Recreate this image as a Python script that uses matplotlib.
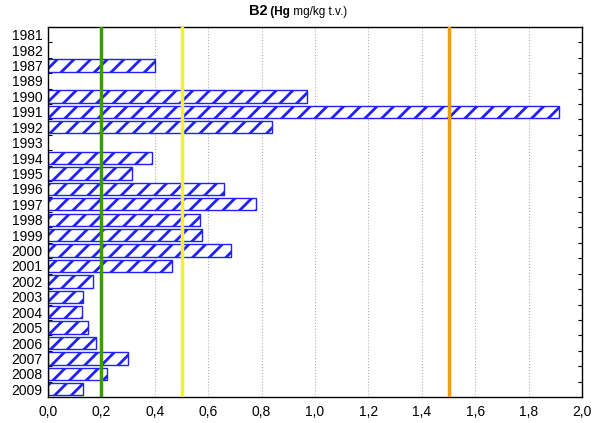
import matplotlib
matplotlib.use("Agg")
from matplotlib import pyplot as plt
from matplotlib.transforms import offset_copy
import numpy as np

# Datos (Hg mg/kg t.v.)
years = ["1981", "1982", "1987", "1989", "1990", "1991", "1992", "1993",
         "1994", "1995", "1996", "1997", "1998", "1999", "2000", "2001",
         "2002", "2003", "2004", "2005", "2006", "2007", "2008", "2009"]
hg = [0, 0, 0.40, 0, 0.97, 1.915, 0.84, 0,
      0.39, 0.315, 0.66, 0.78, 0.57, 0.575, 0.685, 0.465,
      0.17, 0.13, 0.127, 0.15, 0.18, 0.30, 0.22, 0.13]
limits = [0.2, 0.5, 1.5]
limit_colors = ["#3a9a0a", "#f5f51e", "#f59a0a"]
xticks = [0.0, 0.2, 0.4, 0.6, 0.8, 1.0, 1.2, 1.4, 1.6, 1.8, 2.0]

plt.rcParams["font.family"] = ["Liberation Sans", "DejaVu Sans"]
plt.rcParams["hatch.linewidth"] = 2.0
plt.rcParams["hatch.color"] = "#1010ee"

fig = plt.figure(figsize=(5.92, 4.23), dpi=100)
ax = fig.add_axes([48 / 592, 1 - 397 / 423, 534 / 592, 370 / 423])

y = np.arange(len(years))
vals = np.array(hg)
mask = vals > 0
ax.barh(y[mask], vals[mask], height=0.8, color="white", edgecolor="#2020ff",
        linewidth=1.0, hatch="//", zorder=2)

for v, c in zip(limits, limit_colors):
    ax.axvline(v, color=c, lw=2.5, zorder=3)

ax.set_xlim(0, 2.0)
ax.set_ylim(len(years) - 0.5, -0.5)
ax.set_yticks(y)
ax.set_yticklabels(years)
ax.set_xticks(xticks)
ax.set_xticklabels([f"{t:.1f}".replace(".", ",") for t in xticks])
ax.tick_params(axis="both", labelsize=10, length=0, pad=6)
ax.tick_params(axis="y", pad=4)
ax.grid(axis="x", color="#b0b0b0", ls=":", lw=0.8, zorder=0)
ax.set_axisbelow(True)

# marcas pequeñas en los bordes (dentro del eje)
ax.set_yticks(y[:-1] + 0.5, minor=True)
ax.tick_params(axis="y", which="minor", direction="in", length=3,
               left=True, right=True, width=0.8)
for s in ax.spines.values():
    s.set_linewidth(1.0)

# Título con partes en negrita
tr = ax.transAxes
x0, y0 = 0.376, 1.032
t1 = ax.text(x0, y0, "B2", transform=tr, fontsize=10.5, fontweight="bold",
             ha="left", va="baseline")
fig.canvas.draw()
w1 = t1.get_window_extent().width
t2 = ax.text(x0, y0, " (Hg", transform=offset_copy(tr, fig=fig, x=w1 * 72 / fig.dpi, units="points"),
             fontsize=8.5, fontweight="bold", ha="left", va="baseline")
fig.canvas.draw()
w2 = t2.get_window_extent().width
ax.text(x0, y0, " mg/kg t.v.)", transform=offset_copy(tr, fig=fig, x=(w1 + w2) * 72 / fig.dpi, units="points"),
        fontsize=8.5, ha="left", va="baseline")

fig.savefig("out.png", dpi=100)
